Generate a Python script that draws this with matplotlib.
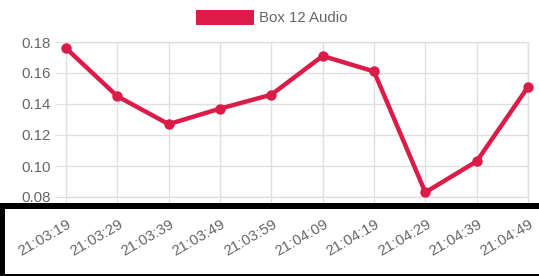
import matplotlib
matplotlib.use("Agg")
import matplotlib.pyplot as plt
from matplotlib.patches import Rectangle
from matplotlib.transforms import ScaledTranslation

labels = ["21:03:19", "21:03:29", "21:03:39", "21:03:49", "21:03:59",
          "21:04:09", "21:04:19", "21:04:29", "21:04:39", "21:04:49"]
values = [0.176, 0.145, 0.127, 0.137, 0.146, 0.171, 0.161, 0.083, 0.103, 0.151]
series_name = "Box 12 Audio"
yticks = [0.08, 0.10, 0.12, 0.14, 0.16, 0.18]

color = "#dc1c48"
gray = "#666666"
grid = "#e0e0e0"
fs = 10.8

plt.rcParams['font.family'] = ['Liberation Sans', 'DejaVu Sans']

W, H = 539, 276
fig = plt.figure(figsize=(W/100, H/100), dpi=100)
ax = fig.add_axes([66/W, 1-197/H, (528-66)/W, (197-42)/H])

x = list(range(len(labels)))
ax.plot(x, values, color=color, lw=3.2, marker='o', ms=6.5, solid_joinstyle='miter', zorder=3, clip_on=False)
ax.set_xlim(0, len(labels)-1)
ax.set_ylim(0.08, 0.18)
ax.set_yticks(yticks)
ax.set_yticklabels([f"{v:.2f}" for v in yticks], color=gray, fontsize=fs)
ax.set_xticks(x)
ax.set_xticklabels(labels, rotation=30, ha='right', rotation_mode='anchor', color=gray, fontsize=fs)
ax.tick_params(axis='y', length=8, color=grid, pad=3)
ax.tick_params(axis='x', length=8, color=grid, pad=6.5)
off = ScaledTranslation(1/100, 0, fig.dpi_scale_trans)
for t in ax.get_xticklabels():
    t.set_transform(t.get_transform() + off)
ax.grid(True, color=grid, lw=1)
ax.set_axisbelow(True)
for s in ax.spines.values():
    s.set_color(grid)
    s.set_linewidth(1)

# legend
fig.patches.append(Rectangle((196/W, 1-25/H), 58/W, 15/H, transform=fig.transFigure,
                             facecolor=color, edgecolor='none'))
fig.text(259/W, 1-18/H, series_name, color=gray, fontsize=fs, va='center', ha='left')

# black annotation box
for (x0, y0, w, h) in [(0, 203, 539, 6), (0, 203, 5, 73), (0, 274, 539, 2)]:
    fig.patches.append(Rectangle((x0/W, 1-(y0+h)/H), w/W, h/H, transform=fig.transFigure,
                                 facecolor='black', edgecolor='none', zorder=10))

fig.savefig("out.png", dpi=100)
